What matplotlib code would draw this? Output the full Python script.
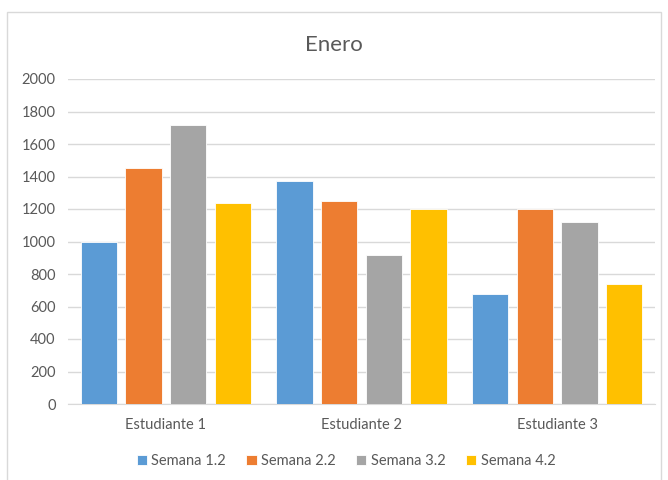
import numpy as np
import matplotlib.pyplot as plt
from matplotlib.patches import Rectangle

# data
estudiantes = ['Estudiante 1', 'Estudiante 2', 'Estudiante 3']
semanas = ['Semana 1.2', 'Semana 2.2', 'Semana 3.2', 'Semana 4.2']
semana_1 = [1000, 1370, 680]
semana_2 = [1450, 1250, 1200]
semana_3 = [1720, 920, 1120]
semana_4 = [1240, 1200, 740]
colores = ['#5B9BD5', '#ED7D31', '#A5A5A5', '#FFC000']

plt.rcParams['font.family'] = ['Lato', 'DejaVu Sans']
txt = '#595959'

fig = plt.figure(figsize=(6.68, 4.8), dpi=100)
fig.patches.append(Rectangle((7 / 668, -0.01), 654 / 668, (468 / 480) + 0.01,
                             transform=fig.transFigure, fill=False,
                             edgecolor='#D9D9D9', linewidth=1))

ax = fig.add_axes([68 / 668, 76 / 480, 587 / 668, 325 / 480])
x = np.arange(len(estudiantes))
paso = 0.228
ancho = 0.185
for i, (vals, nombre) in enumerate(zip([semana_1, semana_2, semana_3, semana_4], semanas)):
    ax.bar(x + (i - 1.5) * paso, vals, ancho, color=colores[i], label=nombre,
           edgecolor='white', linewidth=0.6, zorder=3)

ax.set_xlim(-0.5, 2.5)
ax.set_ylim(0, 2000)
ax.set_yticks(range(0, 2001, 200))
ax.set_xticks(x)
ax.set_xticklabels(estudiantes)
ax.tick_params(length=0, labelsize=10.5, colors=txt)
ax.tick_params(axis='y', pad=9)
ax.tick_params(axis='x', pad=10)
ax.grid(axis='y', color='#D9D9D9', linewidth=1, zorder=0)
for s in ['top', 'right', 'left']:
    ax.spines[s].set_visible(False)
ax.spines['bottom'].set_color('#D9D9D9')

fig.text(0.5, 1 - 45 / 480, 'Enero', ha='center', va='center', fontsize=16, color=txt)
fig.legend(loc='center', bbox_to_anchor=(346 / 668, 1 - 461 / 480), ncol=4, frameon=False,
           fontsize=10.5, labelcolor=txt, handlelength=0.7, handleheight=0.7,
           handletextpad=0.3, columnspacing=1.4)

fig.savefig('out.png', dpi=100)
